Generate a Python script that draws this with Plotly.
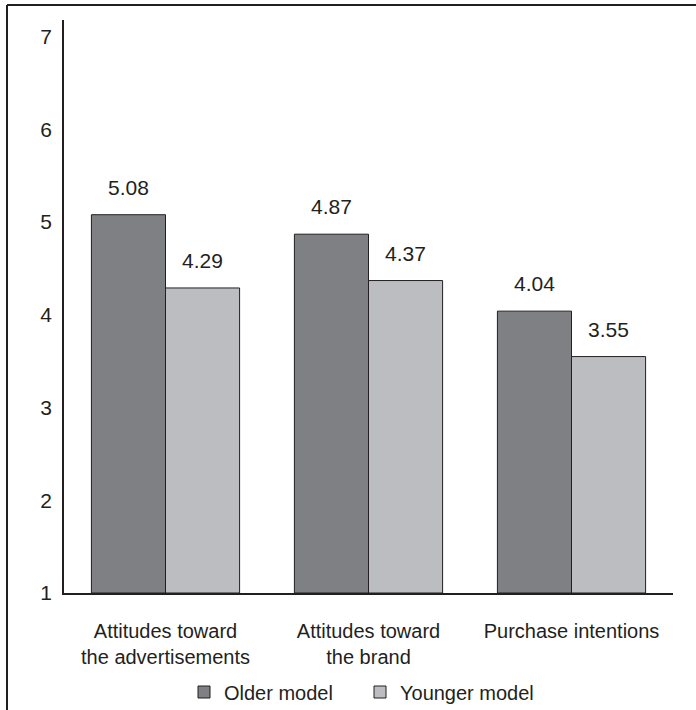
import plotly.graph_objects as go

categories = ["Attitudes toward<br>the advertisements", "Attitudes toward<br>the brand", "Purchase intentions"]
older = [5.08, 4.87, 4.04]
younger = [4.29, 4.37, 3.55]
series_names = ["Older model", "Younger model"]
y_ticks = [1, 2, 3, 4, 5, 6, 7]

FONT = "Liberation Sans, Arial, sans-serif"
TXT = "#231f20"

fig = go.Figure()
fig.add_trace(go.Bar(name=series_names[0], x=categories, y=[v - 1 for v in older], base=1,
                     marker=dict(color="#7f8083", line=dict(color="#231f20", width=1))))
fig.add_trace(go.Bar(name=series_names[1], x=categories, y=[v - 1 for v in younger], base=1,
                     marker=dict(color="#bcbdc0", line=dict(color="#231f20", width=1))))

for i, c in enumerate(categories):
    for vals, off in ((older, -0.1825), (younger, 0.1825)):
        fig.add_annotation(x=i + off, y=vals[i], xref="x", yref="y", text=f"{vals[i]:.2f}",
                           showarrow=False, yanchor="bottom", yshift=14,
                           font=dict(family=FONT, size=21, color=TXT))

# frame lines (top and left)
LX = (7 - 64) / 609
TY = (593 - 5) / 573
fig.add_shape(type="line", xref="paper", yref="paper", x0=LX, x1=1.1, y0=TY, y1=TY,
              line=dict(color="#231f20", width=2))
fig.add_shape(type="line", xref="paper", yref="paper", x0=LX, x1=LX, y0=TY, y1=-0.25,
              line=dict(color="#231f20", width=2))

fig.update_layout(
    width=696, height=710,
    margin=dict(l=64, r=23, t=20, b=117, autoexpand=False),
    paper_bgcolor="white", plot_bgcolor="white",
    barmode="group", bargap=0.27, bargroupgap=0,
    font=dict(family=FONT, size=20, color=TXT),
    showlegend=True,
    legend=dict(orientation="h", xref="container", yref="container",
                x=(184) / 696, xanchor="left", y=(710 - 692) / 710, yanchor="middle",
                font=dict(family=FONT, size=20, color=TXT), itemwidth=30,
                entrywidth=131, traceorder="normal"),
    xaxis=dict(showline=True, linecolor="#231f20", linewidth=1.5, ticks="",
               ticklabelstandoff=19, tickfont=dict(size=20), showgrid=False),
    yaxis=dict(range=[1, 7.18], tickvals=y_ticks, showline=True, linecolor="#231f20", linewidth=1.5,
               ticks="", showgrid=False, zeroline=False, ticklabelstandoff=6,
               tickfont=dict(size=21)),
)

fig.write_html("out.html")
